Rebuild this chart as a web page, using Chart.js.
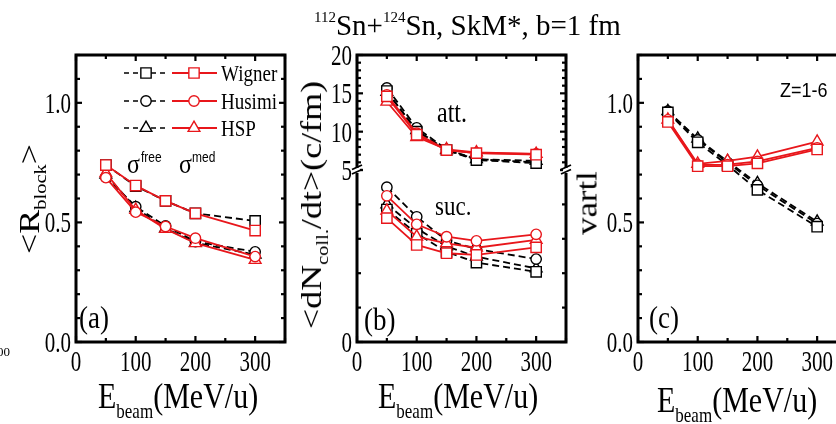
<!DOCTYPE html>
<html><head><meta charset="utf-8">
<script src="https://cdn.jsdelivr.net/npm/chart.js@4.4.0/dist/chart.umd.min.js"></script>
<style>
html,body{margin:0;padding:0;background:#fff;width:836px;height:424px;overflow:hidden;position:relative;font-family:"Liberation Serif","Times New Roman",serif;color:#000}
canvas{position:absolute;left:0;top:0}
.t{position:absolute;white-space:nowrap;line-height:1;transform-origin:0 0}
.s{font-family:"Liberation Sans",Arial,sans-serif}
.yt{position:absolute;white-space:nowrap;line-height:1;transform-origin:50% 50%}
</style></head><body>
<canvas id="ca" width="880" height="424"></canvas>
<canvas id="cb" width="880" height="424"></canvas>
<canvas id="cc" width="880" height="424"></canvas>

<div class="t" data-x="314" data-b="35" data-fs="29" data-sy="1"><span style="font-size:15px;position:relative;top:-13px">112</span>Sn+<span style="font-size:15px;position:relative;top:-13px">124</span>Sn, SkM*, b=1 fm</div>

<div class="t" data-x="221" data-b="81" data-fs="19" data-sy="1.25">Wigner</div>
<div class="t" data-x="221" data-b="109" data-fs="19" data-sy="1.25">Husimi</div>
<div class="t" data-x="221" data-b="136" data-fs="19" data-sy="1.25">HSP</div>

<div class="t" data-x="127" data-b="173" data-fs="24" data-sy="1.1">σ</div>
<div class="t s" data-x="141" data-b="162" data-fs="12" data-sy="1.2" data-sans="1">free</div>
<div class="t" data-x="179" data-b="173" data-fs="24" data-sy="1.1">σ</div>
<div class="t s" data-x="192" data-b="162" data-fs="12" data-sy="1.2" data-sans="1">med</div>

<div class="t" data-x="437" data-b="122" data-fs="24" data-sy="1.2">att.</div>
<div class="t" data-x="435" data-b="215" data-fs="23" data-sy="1.2">suc.</div>
<div class="t s" data-x="780" data-b="98" data-fs="18" data-sy="1.15" data-sans="1">Z=1-6</div>

<div class="t" data-x="79" data-b="329" data-fs="27" data-sy="1.2">(a)</div>
<div class="t" data-x="364" data-b="331" data-fs="27" data-sy="1.2">(b)</div>
<div class="t" data-x="649" data-b="329" data-fs="27" data-sy="1.2">(c)</div>

<div class="t" data-x="98" data-b="408" data-fs="30" data-sy="1.2">E<span style="font-size:17px;position:relative;top:8px">beam</span>(MeV/u)</div>
<div class="t" data-x="378" data-b="408" data-fs="30" data-sy="1.2">E<span style="font-size:17px;position:relative;top:8px">beam</span>(MeV/u)</div>
<div class="t" data-x="657" data-b="412" data-fs="30" data-sy="1.2">E<span style="font-size:17px;position:relative;top:8px">beam</span>(MeV/u)</div>

<div class="t" data-x="-3" data-b="356" data-fs="13" data-sy="1">00</div>

<div class="yt" data-cx="29" data-cy="199" style="font-size:30px">&lt;R<span style="font-size:17px;position:relative;top:7px">block</span>&gt;</div>
<div class="yt" data-cx="311" data-cy="205" style="font-size:30px">&lt;dN<span style="font-size:17px;position:relative;top:7px">coll.</span>/dt&gt;(c/fm)</div>
<div class="yt" data-cx="587" data-cy="203" style="font-size:29px">vartl</div>

<script>
// ---------------- data ----------------
const energies = [50, 100, 150, 200, 300];
const xTickValues = [0, 100, 200, 300];
const aYTickValues = [0, 0.5, 1.0];
const bYTickValues = [0, 5, 10, 15, 20];
const cYTickValues = [0, 0.5, 1.0];
const legendNames = ['Wigner', 'Husimi', 'HSP'];

// (a) <R_block>, free (black dashed) and medium (red solid)
const aWignerFree = [0.74, 0.652, 0.59, 0.538, 0.506];
const aWignerMed  = [0.74, 0.654, 0.59, 0.538, 0.466];
const aHusimiFree = [0.69, 0.566, 0.485, 0.42, 0.377];
const aHusimiMed  = [0.687, 0.543, 0.483, 0.434, 0.357];
const aHspFree    = [0.70, 0.56, 0.475, 0.415, 0.365];
const aHspMed     = [0.706, 0.552, 0.473, 0.413, 0.343];

// (b) attempted collisions (upper part)
const bAttWignerFree = [15.3, 10.0, 7.6, 6.3, 5.9];
const bAttHusimiFree = [15.7, 10.5, 7.7, 6.4, 6.0];
const bAttHspFree    = [15.2, 10.2, 7.6, 6.4, 6.2];
const bAttWignerMed  = [14.6, 9.6, 7.6, 7.2, 7.0];
const bAttHusimiMed  = [14.8, 9.8, 7.6, 7.2, 7.1];
const bAttHspMed     = [13.9, 9.3, 7.7, 7.3, 7.1];
// (b) successful collisions (lower part)
const bSucWignerFree = [3.85, 3.15, 2.62, 2.31, 2.04];
const bSucHusimiFree = [4.5, 3.64, 2.95, 2.7, 2.41];
const bSucHspFree    = [4.0, 3.3, 2.78, 2.48, 2.14];
const bSucWignerMed  = [3.6, 2.82, 2.58, 2.53, 2.75];
const bSucHusimiMed  = [4.25, 3.42, 3.06, 2.94, 3.13];
const bSucHspMed     = [3.82, 3.06, 2.87, 2.74, 2.97];

// (c) vartl, Z=1-6
const cWignerFree = [0.96, 0.835, 0.74, 0.636, 0.482];
const cHusimiFree = [0.965, 0.845, 0.75, 0.655, 0.495];
const cHspFree    = [0.965, 0.85, 0.755, 0.664, 0.503];
const cWignerMed  = [0.92, 0.735, 0.735, 0.747, 0.805];
const cHusimiMed  = [0.929, 0.74, 0.742, 0.755, 0.812];
const cHspMed     = [0.93, 0.745, 0.757, 0.775, 0.838];

// ---------------- text placement ----------------
document.querySelectorAll('.t').forEach(el => {
  const fs = +el.dataset.fs, sy = +el.dataset.sy;
  const k = el.dataset.sans ? 0.8465 : 0.8375;
  el.style.fontSize = fs + 'px';
  el.style.left = el.dataset.x + 'px';
  el.style.top = (+el.dataset.b - k * fs * sy) + 'px';
  el.style.transform = 'scale(1,' + sy + ')';
});
document.querySelectorAll('.yt').forEach(el => {
  el.style.left = el.dataset.cx + 'px';
  el.style.top = el.dataset.cy + 'px';
  el.style.transform = 'translate(-50%,-50%) rotate(-90deg) scale(1.2,1)';
});

// ---------------- styling helpers ----------------
const RED = '#e8161b', BLACK = '#000';
const radii = {rect: 7.3, circle: 5.2, triangle: 6.8};
const styles = ['rect', 'circle', 'triangle'];
function ds(values, color, style, dashed, yAxisID) {
  return {
    data: energies.map((x, i) => ({x, y: values[i]})),
    borderColor: color, backgroundColor: '#fff',
    pointBackgroundColor: '#fff', pointBorderColor: color,
    pointStyle: style, pointRadius: radii[style], pointBorderWidth: 1.4,
    borderWidth: 1.8, borderDash: dashed ? [7, 4] : [],
    tension: 0, order: dashed ? 1 : 0, yAxisID: yAxisID || 'y', clip: false
  };
}

function strText(ctx, txt, x, yBase, align, sy) {
  ctx.save(); ctx.translate(x, yBase); ctx.scale(1, sy);
  ctx.textAlign = align; ctx.textBaseline = 'alphabetic';
  ctx.fillText(txt, 0, 0); ctx.restore();
}
function seg(ctx, x1, y1, x2, y2) { ctx.beginPath(); ctx.moveTo(x1, y1); ctx.lineTo(x2, y2); ctx.stroke(); }

function marker(ctx, style, r, x, y, color) {
  ctx.save();
  ctx.fillStyle = '#fff'; ctx.strokeStyle = color; ctx.lineWidth = 1.4; ctx.setLineDash([]);
  if (Chart.helpers && Chart.helpers.drawPoint) {
    Chart.helpers.drawPoint(ctx, {pointStyle: style, radius: r, rotation: 0, borderWidth: 1.4}, x, y);
  } else {
    ctx.beginPath(); ctx.arc(x, y, r, 0, Math.PI * 2); ctx.fill(); ctx.stroke();
  }
  ctx.restore();
}

const FS = 21, SY = 1.4;
const deco = {
  id: 'deco',
  afterDatasetsDraw(chart, args, o) {
    const ctx = chart.ctx, a = chart.chartArea, xs = chart.scales.x;
    ctx.save();
    ctx.strokeStyle = '#000'; ctx.setLineDash([]);
    ctx.lineWidth = 2.2;
    for (let i = 0; i <= 7; i++) {
      const v = i * 50, px = xs.getPixelForValue(v), len = v % 100 === 0 ? 6 : 4;
      seg(ctx, px, a.bottom, px, a.bottom - len);
      seg(ctx, px, a.top, px, a.top + len);
    }
    o.yTicks.forEach(t => {
      const sc = chart.scales[t.id];
      const n = Math.round((t.max - t.min) / t.step);
      for (let i = 0; i <= n; i++) {
        const v = t.min + i * t.step, py = sc.getPixelForValue(v);
        const len = i % t.majorEvery === 0 ? 6 : 4;
        seg(ctx, a.left, py, a.left + len, py);
        seg(ctx, a.right, py, a.right - len, py);
      }
    });
    ctx.lineWidth = 3;
    ctx.strokeRect(a.left, a.top, a.right - a.left, a.bottom - a.top);
    if (o.breakAt) {
      const sc = chart.scales[o.breakAt.id], py = sc.getPixelForValue(o.breakAt.v);
      [a.left, a.right].forEach(fx => {
        ctx.fillStyle = '#fff';
        ctx.fillRect(fx - 3, py - 2, 6, 5);
        ctx.strokeStyle = '#000'; ctx.lineWidth = 1.8;
        seg(ctx, fx - 5, py - 0.5, fx + 5, py - 5);
        seg(ctx, fx - 5, py + 4, fx + 5, py - 0.5);
      });
    }
    ctx.fillStyle = '#000';
    ctx.font = FS + 'px "Liberation Serif"';
    xTickValues.forEach(v => strText(ctx, String(v), xs.getPixelForValue(v), 371, 'center', SY));
    o.yLabels.forEach(l => {
      const py = chart.scales[l.id].getPixelForValue(l.v);
      strText(ctx, l.txt, a.left - 5, py + 0.338 * FS * SY, 'right', SY);
    });
    if (o.legend) {
      o.legend.rows.forEach((ry, i) => {
        const st = styles[i];
        ctx.strokeStyle = BLACK; ctx.lineWidth = 1.7; ctx.setLineDash([5, 4]);
        seg(ctx, 124, ry, 168, ry);
        ctx.strokeStyle = RED; ctx.lineWidth = 1.8; ctx.setLineDash([]);
        seg(ctx, 172, ry, 217, ry);
        marker(ctx, st, radii[st], 146, ry, BLACK);
        marker(ctx, st, radii[st], 194, ry, RED);
      });
    }
    ctx.restore();
  }
};

function baseOptions(pad, yScales, decoOpts) {
  return {
    responsive: false, animation: false, events: [],
    layout: {padding: pad, autoPadding: false},
    scales: Object.assign({x: {type: 'linear', min: 0, max: 350, display: false}}, yScales),
    plugins: {legend: {display: false}, tooltip: {enabled: false}, deco: decoOpts}
  };
}
const fmt1 = v => v.toFixed(1);

new Chart(document.getElementById('ca'), {
  type: 'line',
  data: {datasets: [
    ds(aWignerFree, BLACK, 'rect', true), ds(aHusimiFree, BLACK, 'circle', true), ds(aHspFree, BLACK, 'triangle', true),
    ds(aWignerMed, RED, 'rect', false), ds(aHusimiMed, RED, 'circle', false), ds(aHspMed, RED, 'triangle', false)
  ]},
  options: baseOptions({left: 76, top: 55, right: 595, bottom: 82},
    {y: {type: 'linear', min: 0, max: 1.2, display: false}},
    {yTicks: [{id: 'y', min: 0, max: 1.2, step: 0.1, majorEvery: 5}],
     yLabels: aYTickValues.map(v => ({id: 'y', v, txt: fmt1(v)})),
     legend: {rows: [73, 101, 128]}}),
  plugins: [deco]
});

new Chart(document.getElementById('cb'), {
  type: 'line',
  data: {datasets: [
    ds(bAttWignerFree, BLACK, 'rect', true, 'yUp'), ds(bAttHusimiFree, BLACK, 'circle', true, 'yUp'), ds(bAttHspFree, BLACK, 'triangle', true, 'yUp'),
    ds(bAttWignerMed, RED, 'rect', false, 'yUp'), ds(bAttHusimiMed, RED, 'circle', false, 'yUp'), ds(bAttHspMed, RED, 'triangle', false, 'yUp'),
    ds(bSucWignerFree, BLACK, 'rect', true, 'yLo'), ds(bSucHusimiFree, BLACK, 'circle', true, 'yLo'), ds(bSucHspFree, BLACK, 'triangle', true, 'yLo'),
    ds(bSucWignerMed, RED, 'rect', false, 'yLo'), ds(bSucHusimiMed, RED, 'circle', false, 'yLo'), ds(bSucHspMed, RED, 'triangle', false, 'yLo')
  ]},
  options: baseOptions({left: 357, top: 55, right: 314, bottom: 82},
    {yLo: {type: 'linear', position: 'left', min: 0, max: 5, display: false, stack: 'b', stackWeight: 172, weight: 1},
     yUp: {type: 'linear', position: 'left', min: 5, max: 20, display: false, stack: 'b', stackWeight: 115, weight: 2}},
    {yTicks: [{id: 'yLo', min: 0, max: 5, step: 1, majorEvery: 5}, {id: 'yUp', min: 5, max: 20, step: 1, majorEvery: 5}],
     yLabels: bYTickValues.map(v => ({id: v <= 5 ? 'yLo' : 'yUp', v, txt: String(v)})),
     breakAt: {id: 'yLo', v: 5}}),
  plugins: [deco]
});

new Chart(document.getElementById('cc'), {
  type: 'line',
  data: {datasets: [
    ds(cWignerFree, BLACK, 'rect', true), ds(cHusimiFree, BLACK, 'circle', true), ds(cHspFree, BLACK, 'triangle', true),
    ds(cWignerMed, RED, 'rect', false), ds(cHusimiMed, RED, 'circle', false), ds(cHspMed, RED, 'triangle', false)
  ]},
  options: baseOptions({left: 638, top: 55, right: 33, bottom: 82},
    {y: {type: 'linear', min: 0, max: 1.2, display: false}},
    {yTicks: [{id: 'y', min: 0, max: 1.2, step: 0.1, majorEvery: 5}],
     yLabels: cYTickValues.map(v => ({id: 'y', v, txt: fmt1(v)}))}),
  plugins: [deco]
});
</script>
</body></html>
